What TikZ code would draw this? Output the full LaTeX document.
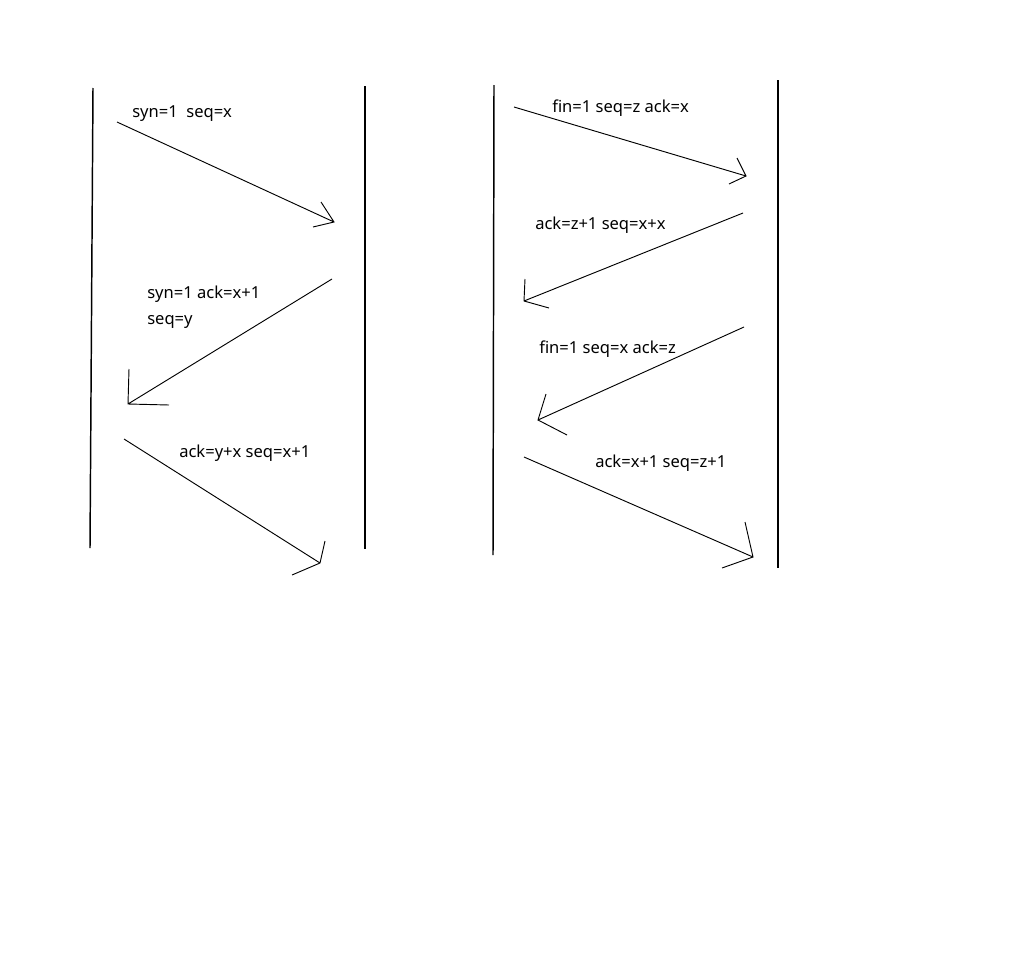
\documentclass[tikz,border=0pt]{standalone}
\usepackage{fontspec}
\setmainfont{Noto Sans}
\tikzset{
  lifeline/.style={line width=1.1pt},
  msg/.style={line width=0.7pt},
  lbl/.style={anchor=base west,inner sep=0pt,font=\fontsize{12.4}{14}\selectfont}
}
\begin{document}
\begin{tikzpicture}[x=0.75pt,y=-0.75pt]
        \useasboundingbox (0,0) rectangle (1024,960);
        % life lines
        \coordinate (a1) at (93,88);   \coordinate (a2) at (90,548);
        \coordinate (b1) at (365,86);  \coordinate (b2) at (365,549);
        \coordinate (c1) at (494,85);  \coordinate (c2) at (493,555);
        \coordinate (d1) at (778,80);  \coordinate (d2) at (778,568);
        \draw[lifeline] (a1)--(a2);
        \draw[lifeline] (b1)--(b2);
        \draw[lifeline] (c1)--(c2);
        \draw[lifeline] (d1)--(d2);
        % connection set up
        \coordinate (s1) at (117,122); \coordinate (t1) at (334,222);
        \draw[msg] (s1)--(t1) (321,202)--(t1)--(313,227);
        \node[lbl] (l1) at (132,117) {syn=1\ \ seq=x};
        \coordinate (s2) at (332,279); \coordinate (t2) at (128,404);
        \draw[msg] (s2)--(t2) (129,369)--(t2)--(169,405);
        \node[lbl] (l2) at (147,298) {syn=1 ack=x+1};
        \node[lbl] (l2b) at (147,324) {seq=y};
        \coordinate (s3) at (124,439); \coordinate (t3) at (320,563);
        \draw[msg] (s3)--(t3) (325,541)--(t3)--(292,575);
        \node[lbl] (l3) at (179,457) {ack=y+x seq=x+1};
        % connection release
        \coordinate (s4) at (514,107); \coordinate (t4) at (746,176);
        \draw[msg] (s4)--(t4) (737,158)--(t4)--(729,184);
        \node[lbl] (l4) at (552,112) {fin=1 seq=z ack=x};
        \coordinate (s5) at (743,213); \coordinate (t5) at (524,301);
        \draw[msg] (s5)--(t5) (525,279)--(t5)--(549,308);
        \node[lbl] (l5) at (535,229) {ack=z+1 seq=x+x};
        \coordinate (s6) at (744,327); \coordinate (t6) at (538,420);
        \draw[msg] (s6)--(t6) (546,394)--(t6)--(567,435);
        \node[lbl] (l6) at (539,353) {fin=1 seq=x ack=z};
        \coordinate (s7) at (524,457); \coordinate (t7) at (753,557);
        \draw[msg] (s7)--(t7) (745,522)--(t7)--(722,568);
        \node[lbl] (l7) at (595,467) {ack=x+1 seq=z+1};
\end{tikzpicture}
\end{document}
